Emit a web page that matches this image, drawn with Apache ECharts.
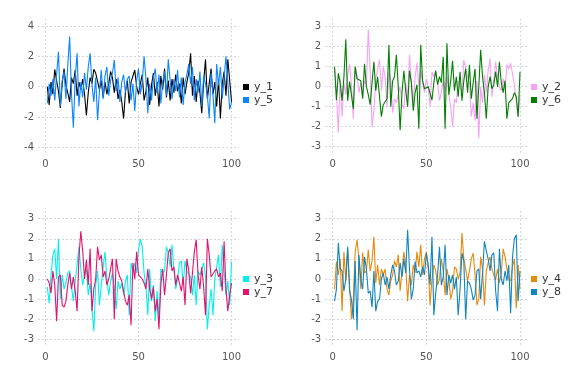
<!DOCTYPE html>
<html>
<head>
<meta charset="utf-8">
<script src="https://cdn.jsdelivr.net/npm/echarts@6/dist/echarts.min.js"></script>
<style>html,body{margin:0;padding:0;background:#fff}#c{width:576px;height:384px}</style>
</head>
<body>
<div id="c"></div>
<script>
const xTicks = [0, 50, 100];
const yTicksTop = [-4, -2, 0, 2, 4];
const yTicks3 = [-3, -2, -1, 0, 1, 2, 3];

const y_1 = [0.0,-1.2,0.3,-0.5,1.15,0.4,-0.3,-1.4,0.2,1.2,
 0.1,-0.4,-1.0,0.6,0.2,1.1,-0.6,0.3,-0.2,0.5,
 -0.5,-1.9,-0.4,0.6,0.2,1.15,0.9,0.95,-0.2,0.4,
 -0.7,0.3,-0.5,0.2,1.0,0.6,-0.4,0.5,-0.8,-0.2,
 -1.0,-2.1,-0.3,0.4,-1.1,0.3,0.2,1.1,0.0,-0.5,
 0.2,0.8,-0.9,-0.3,0.6,-1.2,0.1,0.9,-0.6,0.3,
 -1.3,0.7,-0.2,1.2,-0.7,0.4,-0.9,0.5,-0.4,0.8,
 -0.3,0.2,-1.1,0.6,-0.5,0.3,0.9,2.2,-0.6,0.7,
 -1.0,0.4,-0.4,-1.75,0.3,1.8,-0.8,0.2,1.2,-0.5,
 0.3,-1.3,0.5,-2.1,0.2,1.0,-0.6,1.8,0.4,-1.0];
const y_5 = [-1.1,0.2,-0.6,0.5,-0.9,0.8,2.3,-1.3,0.4,1.0,
 -0.8,1.4,3.3,-0.5,-2.7,0.6,2.2,-1.3,0.3,-0.7,
 0.9,-0.2,1.3,2.2,0.1,-1.0,0.6,-2.2,-0.3,1.1,
 -0.8,0.7,1.3,-0.6,0.4,0.9,1.75,-0.3,0.6,-1.0,
 0.3,0.8,-0.4,0.5,0.7,-0.9,0.2,-1.6,0.4,1.2,
 -0.5,0.3,2.0,0.5,-1.75,0.2,-0.9,0.6,1.2,-0.4,
 0.8,-1.1,0.3,1.0,-0.6,1.8,0.4,-0.8,0.5,-0.3,
 1.1,-0.7,0.6,-1.2,0.3,0.8,1.5,0.2,1.3,-0.9,
 0.5,-0.4,1.0,-1.3,0.7,0.2,-0.6,-2.1,0.9,-0.5,
 -2.4,1.5,0.1,1.3,-0.8,0.6,2.0,0.3,-1.5,-1.0];
const y_2 = [0.9,-0.3,-2.3,0.4,-1.5,0.2,-0.4,0.6,1.15,0.1,
 -1.6,1.0,0.5,-0.3,0.2,-0.5,0.3,0.1,2.87,0.8,
 -2.0,-1.2,0.4,0.3,1.35,-0.2,1.0,0.5,-1.0,0.7,
 0.4,-1.3,-0.6,-0.8,-0.4,0.0,-0.9,-1.1,0.2,-0.6,
 1.6,0.2,-0.8,0.5,1.2,0.0,0.8,0.2,-0.3,0.4,
 0.0,-1.0,0.75,0.5,0.8,0.2,-0.7,-0.3,0.3,-0.2,
 0.5,-0.4,-1.0,-2.0,-0.6,-0.8,0.3,0.4,-0.3,1.33,
 0.9,0.5,0.2,-1.5,-0.8,-1.7,0.3,-2.58,0.0,-0.8,
 0.6,-0.3,0.8,1.4,-0.5,0.3,1.25,0.5,0.0,-0.2,
 0.4,-0.2,1.1,0.9,1.17,1.1,0.1,0.0,-1.5,-0.4];
const y_6 = [1.0,-0.67,0.67,0.2,-0.7,0.5,2.37,-0.7,0.25,-0.4,
 -1.1,1.0,0.4,0.35,0.3,-0.6,1.15,0.0,-0.4,-0.9,
 0.2,1.25,-0.2,0.5,0.4,-1.5,-0.9,-0.8,-0.6,2.1,
 -1.0,0.3,0.5,1.6,0.0,-2.17,-0.3,0.8,-0.2,-1.0,
 0.8,0.2,-1.2,-0.3,0.1,-2.1,2.1,0.3,-0.1,0.0,
 0.0,0.0,-0.67,0.2,0.8,0.1,0.5,0.2,1.5,-2.1,
 2.17,-0.4,0.3,1.3,-0.2,0.5,-0.5,0.75,-0.7,0.3,
 0.9,-0.3,1.1,-0.6,0.2,0.9,-1.6,0.0,1.85,0.5,
 -0.3,-1.6,0.0,0.5,-0.1,0.1,0.75,0.0,1.25,0.2,
 -0.3,0.3,-1.6,-0.8,-0.7,-0.6,-0.3,-0.5,-1.5,0.75];
const y_3 = [-0.4,-1.2,0.2,1.2,1.5,0.0,2.0,-1.0,0.2,-0.5,
 -0.2,0.3,0.4,-0.4,-1.1,-0.1,0.7,1.6,0.5,-0.3,
 0.2,0.5,-0.8,-0.2,-1.5,-2.6,-0.3,0.4,-1.3,-0.3,
 0.6,1.35,0.0,-0.8,-0.1,0.3,-0.4,-1.5,-0.1,-0.5,
 -0.2,-0.8,-0.1,0.2,-1.8,0.8,0.4,0.8,0.3,1.45,
 2.0,1.6,0.3,-0.4,-1.8,0.5,-1.1,-0.3,-2.1,-0.6,
 -2.0,0.5,0.3,0.4,1.6,1.3,0.6,1.7,0.5,-0.5,
 0.0,0.8,0.9,-0.3,0.9,0.4,0.4,0.1,-0.8,0.2,
 -1.3,0.4,0.2,0.5,0.8,0.1,-2.5,-1.3,-0.5,-1.8,
 0.0,0.6,1.2,-0.4,1.7,0.4,-0.8,-0.1,-1.3,0.87];
const y_7 = [0.0,-0.2,-0.7,0.4,-0.3,-2.1,0.1,0.2,-1.3,-1.4,
 -1.1,-0.3,0.3,-0.5,0.1,-0.6,-1.6,1.1,2.37,1.4,
 0.0,0.95,-0.3,1.5,-1.6,-0.5,0.0,1.6,0.95,1.2,
 0.1,0.4,-0.3,0.0,0.5,1.0,-2.0,1.0,0.4,0.1,
 -0.1,-0.6,-1.1,-1.3,-0.8,-2.3,0.8,0.0,1.35,0.2,
 0.2,0.0,-0.2,-0.5,0.5,-0.5,-1.0,-0.4,-1.6,-1.0,
 -2.5,-0.3,0.5,-0.8,0.2,1.3,1.5,0.4,0.6,-0.3,
 0.2,-0.2,-0.6,0.1,-1.3,1.0,0.4,-0.7,0.3,1.35,
 1.95,0.2,-0.5,0.6,-0.4,-1.8,2.0,1.2,0.1,0.1,
 0.4,0.5,0.1,0.3,-0.6,1.87,-0.5,-1.6,-0.8,-0.2];
const y_4 = [-0.5,0.87,0.2,1.0,-1.6,1.35,-0.1,1.5,-0.3,-2.0,
 -1.0,1.35,1.95,1.0,-0.5,1.3,0.3,0.4,1.45,0.4,
 0.9,2.1,-0.2,0.7,-0.3,0.5,0.2,0.5,-0.5,-0.8,
 -0.1,0.2,0.9,0.6,1.2,-0.6,0.4,1.35,0.7,-1.1,
 0.2,-0.3,0.7,0.3,1.35,0.6,1.7,0.2,1.0,1.35,
 0.5,-1.3,0.0,0.7,0.4,-0.3,0.0,1.0,0.4,-0.8,
 0.5,0.0,-1.0,-0.6,0.6,0.5,0.0,0.3,2.28,1.0,
 0.5,-0.1,0.4,1.0,1.28,0.2,-1.3,-1.0,1.1,0.5,
 -1.3,0.4,0.8,1.1,0.5,0.2,-0.05,0.5,-0.2,0.3,
 1.5,1.1,0.5,0.0,-0.1,0.6,1.0,-1.45,0.7,-0.5];
const y_8 = [-1.1,-0.5,1.8,0.5,0.4,-0.6,0.0,1.6,-0.6,-1.0,
 -2.0,0.9,-2.55,1.2,0.0,-0.5,1.1,0.5,-0.7,-0.6,
 -1.4,0.4,-1.6,-1.1,-1.0,0.0,0.3,-0.3,0.1,-0.5,
 0.2,0.7,0.4,-0.3,-0.1,0.8,0.1,1.0,0.3,2.45,
 0.5,-1.0,-0.5,0.87,0.3,0.4,0.1,0.6,0.2,1.28,
 0.7,-0.3,2.1,-1.8,-0.7,0.2,1.6,-0.3,0.1,1.7,
 -0.8,0.2,-0.2,0.2,-0.5,0.1,-1.8,-0.5,1.28,0.9,
 -2.0,-0.1,-0.2,-0.5,-1.05,-0.8,0.4,0.5,-1.0,0.3,
 1.87,1.4,1.0,0.4,1.2,1.3,-0.6,-1.6,1.5,0.0,
 -0.3,0.4,-0.1,0.7,-1.7,1.1,2.0,2.2,-1.1,0.4];

const toPts = arr => arr.map((v, i) => [i + 1, v]);

const gridLine = { show: true, lineStyle: { color: '#d4d4e0', type: [2, 2], width: 1 } };
const lab = { color: '#555', fontSize: 10, fontFamily: 'DejaVu Sans' };

function xAx(gi) {
  return { type: 'value', gridIndex: gi, min: -4, max: 104,
    axisLine: { show: false },
    axisTick: { show: false, customValues: xTicks },
    axisLabel: Object.assign({ customValues: xTicks, margin: 5 }, lab),
    splitLine: gridLine };
}
function yAx(gi, lim, ticks) {
  return { type: 'value', gridIndex: gi, min: -lim, max: lim,
    axisLine: { show: false },
    axisTick: { show: false, customValues: ticks },
    axisLabel: Object.assign({ customValues: ticks, margin: 4 }, lab),
    splitLine: gridLine };
}
function ser(name, data, gi, color) {
  return { name, type: 'line', xAxisIndex: gi, yAxisIndex: gi, data: toPts(data),
    showSymbol: false, symbol: 'none', color, lineStyle: { width: 1.1, color }, animation: false };
}
function leg(names, left, top) {
  return { data: names, left, top, orient: 'vertical', icon: 'rect', itemWidth: 6, itemHeight: 6,
    itemGap: 2, padding: 0, textStyle: { color: '#333', fontSize: 11, fontFamily: 'DejaVu Sans' } };
}

const chart = echarts.init(document.getElementById('c'), null, { renderer: 'canvas' });
chart.setOption({
  animation: false,
  backgroundColor: '#fff',
  grid: [
    { left: 38, top: 18.7, width: 201, height: 136 },
    { left: 325.2, top: 18.7, width: 202.3, height: 136 },
    { left: 38, top: 211, width: 201, height: 136 },
    { left: 325.2, top: 211, width: 202.3, height: 136 }
  ],
  xAxis: [xAx(0), xAx(1), xAx(2), xAx(3)],
  yAxis: [yAx(0, 4.48, yTicksTop), yAx(1, 3.4, yTicks3), yAx(2, 3.38, yTicks3), yAx(3, 3.38, yTicks3)],
  legend: [
    leg(['y_1', 'y_5'], 243, 81.5),
    leg(['y_2', 'y_6'], 531, 81.5),
    leg(['y_3', 'y_7'], 243, 273.5),
    leg(['y_4', 'y_8'], 531, 273.5)
  ],
  series: [
    ser('y_1', y_1, 0, '#000000'),
    ser('y_5', y_5, 0, '#0a84ff'),
    ser('y_2', y_2, 1, '#f7a1f7'),
    ser('y_6', y_6, 1, '#008000'),
    ser('y_3', y_3, 2, '#00f0f0'),
    ser('y_7', y_7, 2, '#e3126e'),
    ser('y_4', y_4, 3, '#e8890c'),
    ser('y_8', y_8, 3, '#0f86c1')
  ]
});
</script>
</body>
</html>
